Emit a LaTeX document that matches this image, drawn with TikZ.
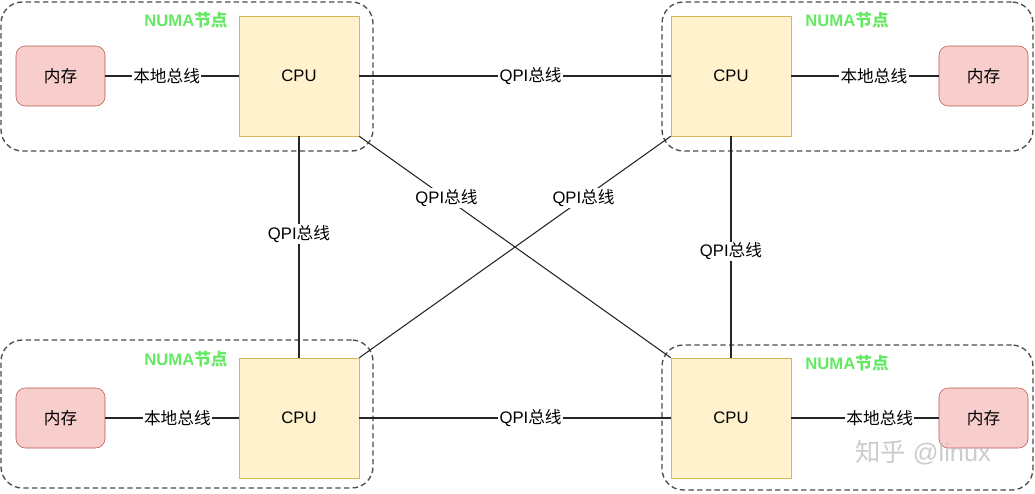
\documentclass[tikz,border=0pt]{standalone}
\usepackage{fontspec}
\setmainfont{Liberation Sans}
\newfontfamily\cjk{Noto Sans CJK SC}
\usetikzlibrary{positioning}
\definecolor{memfill}{HTML}{F8CECC}
\definecolor{memdraw}{HTML}{B85450}
\definecolor{cpufill}{HTML}{FFF2CC}
\definecolor{cpudraw}{HTML}{D6B656}
\definecolor{numagreen}{RGB}{100,232,100}
\newcommand{\zh}[1]{{\cjk #1}}
\tikzset{
  numabox/.style={draw=black!70, line width=1pt, dash pattern=on 4pt off 2.5pt,
    rounded corners=16pt, inner sep=0pt},
  cpu/.style={draw=cpudraw, fill=cpufill, minimum width=90pt, minimum height=90pt,
    inner sep=0pt, font=\fontsize{12.5}{15}\selectfont},
  mem/.style={draw=memdraw, fill=memfill, rounded corners=7pt, minimum width=66.75pt,
    minimum height=45pt, inner sep=0pt, font=\fontsize{12.5}{15}\selectfont},
  bus/.style={draw=black!85, line width=0.8pt},
  buslabel/.style={fill=white, inner sep=1pt, font=\fontsize{12.5}{15}\selectfont},
  numalabel/.style={text=numagreen, inner sep=0pt, font=\fontsize{12.5}{15}\selectfont\bfseries}
}

\begin{document}
\begin{tikzpicture}[x=0.75pt,y=-0.75pt]
      \useasboundingbox (0,0) rectangle (1035,493);
      % NUMA nodes
      \node[numabox, minimum width=279pt, minimum height=111.75pt] (g1) at (187,76.5) {};
      \node[numabox, minimum width=278.25pt, minimum height=111.75pt] (g2) at (847.5,76.5) {};
      \node[numabox, minimum width=279pt, minimum height=111pt] (g3) at (187,414) {};
      \node[numabox, minimum width=278.25pt, minimum height=108.75pt] (g4) at (847.5,417.5) {};
      \node[numalabel] (n1) at (186,20) {NUMA\zh{节点}};
      \node[numalabel] (n2) at (847,20) {NUMA\zh{节点}};
      \node[numalabel] (n3) at (186,359) {NUMA\zh{节点}};
      \node[numalabel] (n4) at (847,363) {NUMA\zh{节点}};
      % CPUs and memory
      \node[cpu] (c1) at (299,76) {CPU};
      \node[cpu] (c2) at (731,76) {CPU};
      \node[cpu] (c3) at (299,418) {CPU};
      \node[cpu] (c4) at (731,418) {CPU};
      \node[mem] (m1) at (60.5,76) {\zh{内存}};
      \node[mem] (m2) at (983.5,76) {\zh{内存}};
      \node[mem] (m3) at (60.5,418) {\zh{内存}};
      \node[mem] (m4) at (983.5,418) {\zh{内存}};
      % local bus
      \draw[bus] (m1) -- node[buslabel, pos=.46] {\zh{本地总线}} (c1);
      \draw[bus] (c2) -- node[buslabel, pos=.56] {\zh{本地总线}} (m2);
      \draw[bus] (m3) -- node[buslabel, pos=.54] {\zh{本地总线}} (c3);
      \draw[bus] (c4) -- node[buslabel, pos=.60] {\zh{本地总线}} (m4);
      % QPI
      \draw[bus] (c1) -- node[buslabel, pos=.55] {QPI\zh{总线}} (c2);
      \draw[bus] (c3) -- node[buslabel, pos=.55] {QPI\zh{总线}} (c4);
      \draw[bus] (c1) -- node[buslabel, pos=.44] {QPI\zh{总线}} (c3);
      \draw[bus] (c2) -- node[buslabel, pos=.52] {QPI\zh{总线}} (c4);
      \draw[bus] (c1.south east) -- node[buslabel, pos=.28] {QPI\zh{总线}} (c4.north west);
      \draw[bus] (c2.south west) -- node[buslabel, pos=.28] {QPI\zh{总线}} (c3.north east);
      % watermark
      \node[text=black!25, opacity=.8, font=\fontsize{19}{22}\selectfont] (wm) at (923,453) {\zh{知乎} @linux};
\end{tikzpicture}
\end{document}
